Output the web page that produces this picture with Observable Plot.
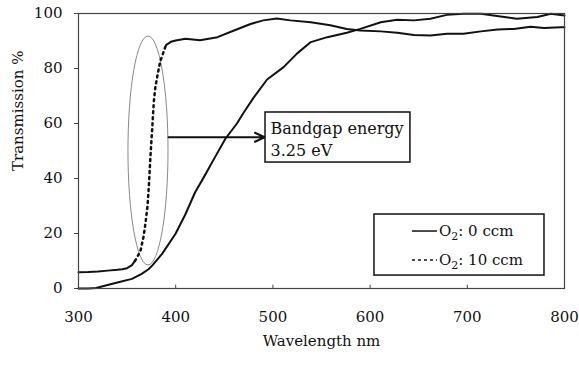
<!DOCTYPE html>
<html><head><meta charset="utf-8">
<script src="https://cdn.jsdelivr.net/npm/d3@7"></script>
<script src="https://cdn.jsdelivr.net/npm/@observablehq/plot@0.6"></script>
<style>body{margin:0;background:#fff;} svg, svg text{font-family:"DejaVu Serif", serif !important;}</style>
</head><body><div id="chart"></div>
<script>
// Series: O2 0 ccm (solid)
const wl0 = [300, 310, 318, 328, 341, 355, 365, 372, 376, 386, 400, 410, 420, 429, 440, 451, 463, 470, 480, 494, 511, 525, 539, 556, 576, 590, 611, 628, 645, 662, 679, 696, 714, 738, 751, 772, 786, 800];
const t0  = [0, 0, 0.2, 1.1, 2.3, 3.5, 5.3, 7, 8.4, 12.6, 20, 27, 35, 40.5, 47.5, 54.4, 60, 64, 69.3, 76, 80.5, 85.5, 89.6, 91.4, 93, 94.4, 96.8, 97.7, 97.5, 98.1, 99.5, 99.9, 99.9, 98.7, 98.1, 98.7, 99.9, 99.3];
// Series: O2 10 ccm (dotted)
const wl10 = [300, 310, 320, 330, 340, 345, 350, 355, 358, 361, 364, 367, 369, 371, 372.5, 374, 375.8, 377.5, 379, 381, 384, 387, 390, 395, 400, 410, 425, 443, 460, 477, 490, 504, 518, 539, 559, 576, 590, 611, 628, 645, 662, 679, 696, 714, 731, 748, 765, 779, 796, 800];
const t10  = [5.9, 6.0, 6.2, 6.5, 6.8, 7.0, 7.4, 8.5, 10.0, 11.8, 14, 19, 24, 30, 38, 48, 58, 68, 73, 77, 82.5, 85.5, 88.5, 89.7, 90.2, 90.8, 90.3, 91.4, 93.8, 96.2, 97.5, 98.2, 97.5, 96.8, 95.7, 94.4, 93.8, 93.5, 93, 92.2, 92, 92.6, 92.6, 93.5, 94.2, 94.4, 95.2, 94.7, 95, 95];
const seriesNames = ["O2: 0 ccm", "O2: 10 ccm"];
const xTicks = [300, 400, 500, 600, 700, 800];
const yTicks = [0, 20, 40, 60, 80, 100];
const xTitle = "Wavelength nm";
const yTitle = "Transmission %";
const bandgapLabel = "Bandgap energy\n3.25 eV";
// annotation geometry (data units)
const ellipseX = [351.4, 392.6];
const ellipseY = [8.4, 91.6];
const arrowData = [{x1: 392.6, x2: 491.5, y: 55}];
const bandgapBox = [{x1: 492.4, x2: 641.5, y1: 45.8, y2: 64}];
const legendX = [604.5, 779.4];
const legendY = [4.7, 26.9];

const s0 = wl0.map((x, i) => ({x, y: t0[i]}));
const s10 = wl10.map((x, i) => ({x, y: t10[i]}));

function ellipseMark(index, {x, y}) {
  const cx = (x(ellipseX[0]) + x(ellipseX[1])) / 2;
  const cy = (y(ellipseY[0]) + y(ellipseY[1])) / 2;
  return d3.create("svg:ellipse")
    .attr("cx", cx).attr("cy", cy)
    .attr("rx", Math.abs(x(ellipseX[1]) - x(ellipseX[0])) / 2)
    .attr("ry", Math.abs(y(ellipseY[0]) - y(ellipseY[1])) / 2)
    .attr("fill", "none").attr("stroke", "#888").attr("stroke-width", 1)
    .node();
}

function legendMark(index, {x, y}) {
  const g = d3.create("svg:g");
  const X1 = x(legendX[0]), X2 = x(legendX[1]);
  const Y1 = y(legendY[1]), Y2 = y(legendY[0]);
  g.append("rect").attr("x", X1).attr("y", Y1).attr("width", X2 - X1).attr("height", Y2 - Y1)
    .attr("fill", "white").attr("stroke", "#111").attr("stroke-width", 1.5);
  const dashes = [null, "3,3"];
  seriesNames.forEach((name, i) => {
    const cy = Y1 + 17 + i * 29;
    g.append("line").attr("x1", X1 + 38).attr("x2", X1 + 63).attr("y1", cy).attr("y2", cy)
      .attr("stroke", "#111").attr("stroke-width", 1.5).attr("stroke-dasharray", dashes[i]);
    const t = g.append("text").attr("x", X1 + 65).attr("y", cy).attr("dy", "0.35em")
      .attr("text-anchor", "start").attr("font-size", 15).attr("fill", "#111");
    t.append("tspan").text(name.slice(0, 1));
    t.append("tspan").attr("font-size", 11).attr("dy", 4).text(name.slice(1, 2));
    t.append("tspan").attr("dy", -4).text(name.slice(2));
  });
  return g.node();
}

const chart = Plot.plot({
  width: 579, height: 365,
  marginLeft: 78, marginRight: 15, marginTop: 13, marginBottom: 77,
  style: {fontFamily: "'DejaVu Serif', serif", fontSize: "15px", color: "#111", background: "#fff"},
  x: {domain: [300, 800]},
  y: {domain: [0, 100]},
  marks: [
    Plot.axisY(yTicks, {tickSize: 4, tickPadding: 12, label: null, stroke: "#444"}),
    Plot.axisX(xTicks, {tickSize: 0, tickPadding: 23, label: null}),
    Plot.ruleX(xTicks.slice(1, -1), {y1: 0, y2: 1.2, stroke: "#444"}),
    Plot.text([xTitle], {text: d => d, frameAnchor: "bottom", dy: 57, fontSize: 15}),
    Plot.text([yTitle], {text: d => d, frameAnchor: "left", dx: -60, dy: 20, rotate: -90, fontSize: 15}),
    ellipseMark,
    Plot.line(s0, {x: "x", y: "y", stroke: "#111", strokeWidth: 2}),
    Plot.line(s10, {filter: d => d.x <= 358, x: "x", y: "y", stroke: "#111", strokeWidth: 2}),
    Plot.line(s10, {filter: d => d.x >= 358 && d.x <= 390, x: "x", y: "y", stroke: "#111", strokeWidth: 2.5, strokeDasharray: "2,4"}),
    Plot.line(s10, {filter: d => d.x >= 390, x: "x", y: "y", stroke: "#111", strokeWidth: 2}),
    Plot.arrow(arrowData, {x1: "x1", x2: "x2", y1: "y", y2: "y", stroke: "#111", strokeWidth: 2, headLength: 8, headAngle: 50}),
    Plot.rect(bandgapBox, {x1: "x1", x2: "x2", y1: "y1", y2: "y2", fill: "white", stroke: "#111", strokeWidth: 1.5}),
    Plot.text([bandgapLabel], {text: d => d, x: bandgapBox[0].x1, y: (bandgapBox[0].y1 + bandgapBox[0].y2) / 2, dx: 5, textAnchor: "start", lineAnchor: "middle", lineHeight: 1.38, fontSize: 16}),
    legendMark,
    Plot.frame({stroke: "#444", strokeWidth: 1.2})
  ]
});
document.getElementById("chart").appendChild(chart);
</script>
</body></html>
